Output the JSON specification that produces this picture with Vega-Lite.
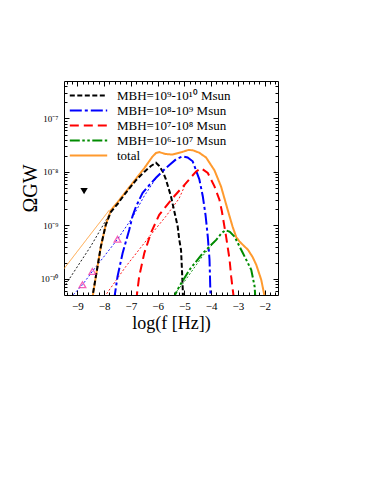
{
  "$schema": "https://vega.github.io/schema/vega-lite/v6.json",
  "width": 214,
  "height": 214,
  "autosize": {"type": "none"},
  "padding": {"left": 64, "top": 81, "right": 96, "bottom": 189},
  "background": "white",
  "config": {
    "font": "Liberation Serif",
    "view": {"stroke": "black", "strokeWidth": 1},
    "axis": {"domain": false, "grid": false, "tickColor": "black", "labelColor": "black", "titleColor": "black", "titleFontWeight": "normal", "labelFont": "Liberation Serif", "titleFont": "Liberation Serif"}
  },
  "datasets": {
    "curves": [
      {"s": "t", "p": "thick", "f": -8.45, "o": 4.0e-11},
      {"s": "t", "p": "thick", "f": -8.31, "o": 1.10e-10},
      {"s": "t", "p": "thick", "f": -8.12, "o": 4.07e-10},
      {"s": "t", "p": "thick", "f": -7.94, "o": 1.02e-9},
      {"s": "t", "p": "thick", "f": -7.75, "o": 1.91e-9},
      {"s": "t", "p": "thick", "f": -7.5, "o": 2.69e-9},
      {"s": "t", "p": "thick", "f": -7.0, "o": 5.62e-9},
      {"s": "t", "p": "thick", "f": -6.5, "o": 1.17e-8},
      {"s": "t", "p": "thick", "f": -6.2, "o": 1.91e-8},
      {"s": "t", "p": "thick", "f": -6.06, "o": 2.26e-8},
      {"s": "t", "p": "thick", "f": -5.94, "o": 2.34e-8},
      {"s": "t", "p": "thick", "f": -5.7, "o": 2.16e-8},
      {"s": "t", "p": "thick", "f": -5.44, "o": 2.11e-8},
      {"s": "t", "p": "thick", "f": -5.1, "o": 2.34e-8},
      {"s": "t", "p": "thick", "f": -4.85, "o": 2.57e-8},
      {"s": "t", "p": "thick", "f": -4.69, "o": 2.54e-8},
      {"s": "t", "p": "thick", "f": -4.45, "o": 2.29e-8},
      {"s": "t", "p": "thick", "f": -4.19, "o": 1.86e-8},
      {"s": "t", "p": "thick", "f": -3.875, "o": 1.07e-8},
      {"s": "t", "p": "thick", "f": -3.625, "o": 5.25e-9},
      {"s": "t", "p": "thick", "f": -3.375, "o": 1.91e-9},
      {"s": "t", "p": "thick", "f": -3.2, "o": 9.55e-10},
      {"s": "t", "p": "thick", "f": -3.06, "o": 6.03e-10},
      {"s": "t", "p": "thick", "f": -2.94, "o": 5.01e-10},
      {"s": "t", "p": "thick", "f": -2.78, "o": 4.17e-10},
      {"s": "t", "p": "thick", "f": -2.625, "o": 3.51e-10},
      {"s": "t", "p": "thick", "f": -2.45, "o": 2.57e-10},
      {"s": "t", "p": "thick", "f": -2.31, "o": 1.82e-10},
      {"s": "t", "p": "thick", "f": -2.125, "o": 9.55e-11},
      {"s": "t", "p": "thick", "f": -2.0, "o": 4.68e-11},
      {"s": "t", "p": "thick", "f": -1.97, "o": 4.0e-11},
      {"s": "t", "p": "thin", "f": -9.53, "o": 1.48e-10},
      {"s": "t", "p": "thin", "f": -8.5, "o": 6.9e-10},
      {"s": "t", "p": "thin", "f": -7.8, "o": 1.95e-9},
      {"s": "a", "p": "thick", "f": -8.46, "o": 3.98e-11},
      {"s": "a", "p": "thick", "f": -8.31, "o": 1.10e-10},
      {"s": "a", "p": "thick", "f": -8.12, "o": 4.07e-10},
      {"s": "a", "p": "thick", "f": -7.94, "o": 1.02e-9},
      {"s": "a", "p": "thick", "f": -7.75, "o": 1.78e-9},
      {"s": "a", "p": "thick", "f": -7.5, "o": 2.51e-9},
      {"s": "a", "p": "thick", "f": -7.19, "o": 4.07e-9},
      {"s": "a", "p": "thick", "f": -6.8, "o": 7.08e-9},
      {"s": "a", "p": "thick", "f": -6.5, "o": 1.0e-8},
      {"s": "a", "p": "thick", "f": -6.25, "o": 1.29e-8},
      {"s": "a", "p": "thick", "f": -6.06, "o": 1.48e-8},
      {"s": "a", "p": "thick", "f": -5.94, "o": 1.29e-8},
      {"s": "a", "p": "thick", "f": -5.8, "o": 1.0e-8},
      {"s": "a", "p": "thick", "f": -5.69, "o": 7.24e-9},
      {"s": "a", "p": "thick", "f": -5.5, "o": 3.47e-9},
      {"s": "a", "p": "thick", "f": -5.375, "o": 1.82e-9},
      {"s": "a", "p": "thick", "f": -5.25, "o": 9.55e-10},
      {"s": "a", "p": "thick", "f": -5.19, "o": 5.37e-10},
      {"s": "a", "p": "thick", "f": -5.125, "o": 3.47e-10},
      {"s": "a", "p": "thick", "f": -5.09, "o": 1.48e-10},
      {"s": "a", "p": "thick", "f": -5.06, "o": 6.31e-11},
      {"s": "a", "p": "thick", "f": -5.05, "o": 3.98e-11},
      {"s": "a", "p": "thin", "f": -9.53, "o": 6.7e-11},
      {"s": "a", "p": "thin", "f": -8.5, "o": 4.07e-10},
      {"s": "a", "p": "thin", "f": -7.75, "o": 1.78e-9},
      {"s": "b", "p": "thick", "f": -7.63, "o": 3.98e-11},
      {"s": "b", "p": "thick", "f": -7.5, "o": 1.10e-10},
      {"s": "b", "p": "thick", "f": -7.31, "o": 3.02e-10},
      {"s": "b", "p": "thick", "f": -7.06, "o": 8.32e-10},
      {"s": "b", "p": "thick", "f": -6.94, "o": 1.48e-9},
      {"s": "b", "p": "thick", "f": -6.81, "o": 2.24e-9},
      {"s": "b", "p": "thick", "f": -6.56, "o": 4.07e-9},
      {"s": "b", "p": "thick", "f": -6.3, "o": 5.75e-9},
      {"s": "b", "p": "thick", "f": -6.06, "o": 7.76e-9},
      {"s": "b", "p": "thick", "f": -5.8, "o": 1.05e-8},
      {"s": "b", "p": "thick", "f": -5.56, "o": 1.35e-8},
      {"s": "b", "p": "thick", "f": -5.3, "o": 1.74e-8},
      {"s": "b", "p": "thick", "f": -5.06, "o": 1.95e-8},
      {"s": "b", "p": "thick", "f": -4.88, "o": 1.86e-8},
      {"s": "b", "p": "thick", "f": -4.69, "o": 1.58e-8},
      {"s": "b", "p": "thick", "f": -4.44, "o": 7.24e-9},
      {"s": "b", "p": "thick", "f": -4.31, "o": 3.47e-9},
      {"s": "b", "p": "thick", "f": -4.21, "o": 1.58e-9},
      {"s": "b", "p": "thick", "f": -4.125, "o": 6.17e-10},
      {"s": "b", "p": "thick", "f": -4.06, "o": 2.29e-10},
      {"s": "b", "p": "thick", "f": -4.03, "o": 6.31e-11},
      {"s": "b", "p": "thick", "f": -4.02, "o": 3.98e-11},
      {"s": "b", "p": "thin", "f": -9.25, "o": 4.47e-11},
      {"s": "b", "p": "thin", "f": -8.81, "o": 7.76e-11},
      {"s": "b", "p": "thin", "f": -8.44, "o": 1.38e-10},
      {"s": "b", "p": "thin", "f": -7.5, "o": 5.5e-10},
      {"s": "b", "p": "thin", "f": -6.94, "o": 1.41e-9},
      {"s": "b", "p": "thin", "f": -6.5, "o": 3.55e-9},
      {"s": "b", "p": "thin", "f": -6.06, "o": 7.59e-9},
      {"s": "c", "p": "thick", "f": -6.8, "o": 3.98e-11},
      {"s": "c", "p": "thick", "f": -6.69, "o": 1.10e-10},
      {"s": "c", "p": "thick", "f": -6.5, "o": 3.02e-10},
      {"s": "c", "p": "thick", "f": -6.25, "o": 7.24e-10},
      {"s": "c", "p": "thick", "f": -5.94, "o": 1.58e-9},
      {"s": "c", "p": "thick", "f": -5.44, "o": 3.24e-9},
      {"s": "c", "p": "thick", "f": -4.94, "o": 6.17e-9},
      {"s": "c", "p": "thick", "f": -4.56, "o": 1.02e-8},
      {"s": "c", "p": "thick", "f": -4.375, "o": 1.17e-8},
      {"s": "c", "p": "thick", "f": -4.125, "o": 9.55e-9},
      {"s": "c", "p": "thick", "f": -3.875, "o": 5.37e-9},
      {"s": "c", "p": "thick", "f": -3.69, "o": 3.02e-9},
      {"s": "c", "p": "thick", "f": -3.6, "o": 1.86e-9},
      {"s": "c", "p": "thick", "f": -3.44, "o": 6.17e-10},
      {"s": "c", "p": "thick", "f": -3.31, "o": 2.29e-10},
      {"s": "c", "p": "thick", "f": -3.25, "o": 1.10e-10},
      {"s": "c", "p": "thick", "f": -3.16, "o": 4.68e-11},
      {"s": "c", "p": "thick", "f": -3.14, "o": 3.98e-11},
      {"s": "c", "p": "thin", "f": -8.08, "o": 3.98e-11},
      {"s": "c", "p": "thin", "f": -7.19, "o": 1.70e-10},
      {"s": "c", "p": "thin", "f": -6.31, "o": 6.17e-10},
      {"s": "c", "p": "thin", "f": -5.69, "o": 1.48e-9},
      {"s": "c", "p": "thin", "f": -5.2, "o": 3.16e-9},
      {"s": "c", "p": "thin", "f": -4.94, "o": 6.17e-9},
      {"s": "d", "p": "thick", "f": -5.45, "o": 3.98e-11},
      {"s": "d", "p": "thick", "f": -5.19, "o": 7.24e-11},
      {"s": "d", "p": "thick", "f": -4.81, "o": 1.48e-10},
      {"s": "d", "p": "thick", "f": -4.31, "o": 3.02e-10},
      {"s": "d", "p": "thick", "f": -3.81, "o": 5.37e-10},
      {"s": "d", "p": "thick", "f": -3.6, "o": 7.24e-10},
      {"s": "d", "p": "thick", "f": -3.46, "o": 8.13e-10},
      {"s": "d", "p": "thick", "f": -3.3, "o": 7.59e-10},
      {"s": "d", "p": "thick", "f": -3.125, "o": 6.17e-10},
      {"s": "d", "p": "thick", "f": -2.81, "o": 3.02e-10},
      {"s": "d", "p": "thick", "f": -2.5, "o": 1.48e-10},
      {"s": "d", "p": "thick", "f": -2.375, "o": 7.24e-11},
      {"s": "d", "p": "thick", "f": -2.34, "o": 3.98e-11},
      {"s": "d", "p": "thin", "f": -5.55, "o": 3.98e-11},
      {"s": "d", "p": "thin", "f": -5.0, "o": 8.91e-11},
      {"s": "d", "p": "thin", "f": -4.3, "o": 2.75e-10},
      {"s": "d", "p": "thin", "f": -3.81, "o": 5.37e-10}
    ],
    "obs": [
      {"kind": "up", "f": -8.81, "o": 7.76e-11},
      {"kind": "up", "f": -8.44, "o": 1.38e-10},
      {"kind": "up", "f": -7.5, "o": 5.5e-10},
      {"kind": "down", "f": -8.75, "o": 4.37e-9}
    ]
  },
  "layer": [
    {
      "data": {"name": "curves"},
      "transform": [{"filter": "datum.p == 'thin'"}],
      "mark": {"type": "line", "clip": true, "strokeWidth": 0.9},
      "encoding": {
        "x": {"field": "f", "type": "quantitative", "scale": {"domain": [-9.5, -1.5], "nice": false, "zero": false},
              "axis": {"orient": "top", "values": [-9, -8, -7, -6, -5, -4, -3, -2], "labels": false, "title": null, "tickSize": -5}},
        "y": {"field": "o", "type": "quantitative", "scale": {"type": "log", "domain": [5e-11, 5e-7], "nice": false},
              "axis": {"orient": "right", "values": [1e-10, 1e-9, 1e-8, 1e-7], "labels": false, "title": null, "tickSize": -5}},
        "color": {"field": "s", "type": "nominal"},
        "detail": {"field": "s"},
        "strokeDash": {"condition": {"test": "datum.s == 't'", "value": [1, 0]}, "value": [2, 2]}
      }
    },
    {
      "data": {"name": "curves"},
      "transform": [{"filter": "datum.p == 'thick'"}],
      "mark": {"type": "line", "clip": true, "strokeWidth": 2},
      "encoding": {
        "x": {"field": "f", "type": "quantitative",
              "axis": {"orient": "bottom", "values": [-9, -8, -7, -6, -5, -4, -3, -2], "title": "log(f [Hz])", "tickSize": -5, "labelPadding": 10, "labelFontSize": 11, "titleFontSize": 18, "titlePadding": 3}},
        "y": {"field": "o", "type": "quantitative",
              "axis": {"orient": "left", "values": [1e-10, 1e-9, 1e-8, 1e-7], "title": "ΩGW", "tickSize": -5, "labelPadding": 11, "labelFontSize": 9,
                       "labelExpr": "'10' + ['⁻⁷','⁻⁸','⁻⁹','⁻¹⁰'][round(-log(datum.value)/LN10) - 7]", "titleFontSize": 20, "titlePadding": 0}},
        "color": {"field": "s", "type": "nominal",
                  "scale": {"domain": ["a", "b", "c", "d", "t"], "range": ["#000000", "#0000ff", "#ff0000", "#008b00", "#ff9a2e"]},
                  "legend": {"title": null, "orient": "none", "legendX": 18, "legendY": 8, "symbolType": "M-3.4,0H3.4", "symbolSize": 121, "symbolStrokeWidth": 2, "labelFontSize": 13, "labelOffset": 22, "rowPadding": 1, "padding": 0,
                             "labelExpr": "datum.value == 'a' ? 'MBH=10⁹-10¹⁰ Msun' : datum.value == 'b' ? 'MBH=10⁸-10⁹  Msun' : datum.value == 'c' ? 'MBH=10⁷-10⁸  Msun' : datum.value == 'd' ? 'MBH=10⁶-10⁷  Msun' : 'total'"}},
        "strokeDash": {"field": "s", "type": "nominal",
                       "scale": {"domain": ["a", "b", "c", "d", "t"], "range": [[5, 2.5], [12, 3, 3, 3], [9, 5], [10, 2.5, 2.5, 2.5, 2.5, 2.5], [1, 0]]}}
      }
    },
    {
      "data": {"name": "obs"},
      "transform": [{"filter": "datum.kind == 'up'"}],
      "mark": {"type": "point", "shape": "triangle-up", "filled": false, "color": "#f0209a", "strokeWidth": 1.3, "size": 45},
      "encoding": {
        "x": {"field": "f", "type": "quantitative",
              "axis": {"orient": "bottom", "values": [-9.4, -9.2, -8.8, -8.6, -8.4, -8.2, -7.8, -7.6, -7.4, -7.2, -6.8, -6.6, -6.4, -6.2, -5.8, -5.6, -5.4, -5.2, -4.8, -4.6, -4.4, -4.2, -3.8, -3.6, -3.4, -3.2, -2.8, -2.6, -2.4, -2.2, -1.8, -1.6], "labels": false, "title": null, "tickSize": -3}},
        "y": {"field": "o", "type": "quantitative",
              "axis": {"orient": "left", "values": [6e-11, 7e-11, 8e-11, 9e-11, 2e-10, 3e-10, 4e-10, 5e-10, 6e-10, 7e-10, 8e-10, 9e-10, 2e-9, 3e-9, 4e-9, 5e-9, 6e-9, 7e-9, 8e-9, 9e-9, 2e-8, 3e-8, 4e-8, 5e-8, 6e-8, 7e-8, 8e-8, 9e-8, 2e-7, 3e-7, 4e-7], "labels": false, "title": null, "tickSize": -3}}
      }
    },
    {
      "data": {"name": "obs"},
      "transform": [{"filter": "datum.kind == 'down'"}],
      "mark": {"type": "point", "shape": "triangle-down", "filled": true, "color": "black", "opacity": 1, "size": 55},
      "encoding": {
        "x": {"field": "f", "type": "quantitative",
              "axis": {"orient": "top", "values": [-9.4, -9.2, -8.8, -8.6, -8.4, -8.2, -7.8, -7.6, -7.4, -7.2, -6.8, -6.6, -6.4, -6.2, -5.8, -5.6, -5.4, -5.2, -4.8, -4.6, -4.4, -4.2, -3.8, -3.6, -3.4, -3.2, -2.8, -2.6, -2.4, -2.2, -1.8, -1.6], "labels": false, "title": null, "tickSize": -3}},
        "y": {"field": "o", "type": "quantitative",
              "axis": {"orient": "right", "values": [6e-11, 7e-11, 8e-11, 9e-11, 2e-10, 3e-10, 4e-10, 5e-10, 6e-10, 7e-10, 8e-10, 9e-10, 2e-9, 3e-9, 4e-9, 5e-9, 6e-9, 7e-9, 8e-9, 9e-9, 2e-8, 3e-8, 4e-8, 5e-8, 6e-8, 7e-8, 8e-8, 9e-8, 2e-7, 3e-7, 4e-7], "labels": false, "title": null, "tickSize": -3}}
      }
    }
  ],
  "resolve": {"axis": {"x": "independent", "y": "independent"}}
}
